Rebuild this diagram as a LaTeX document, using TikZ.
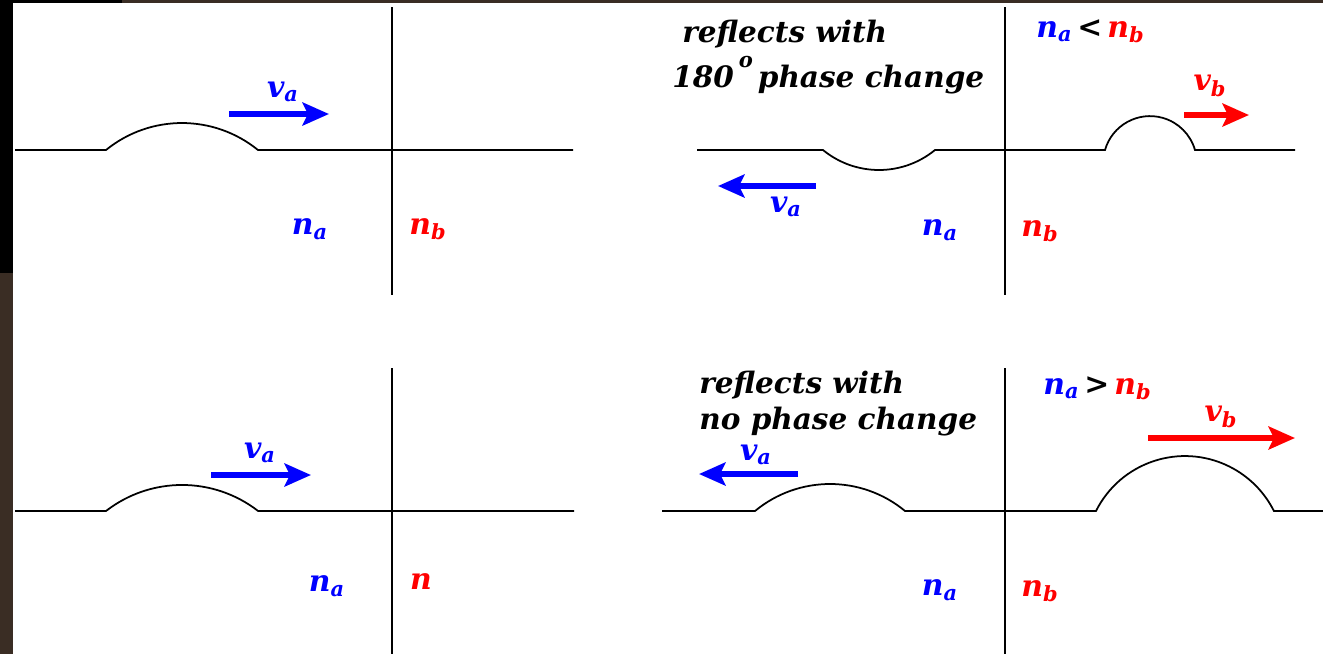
\documentclass[tikz,border=0pt]{standalone}
\usepackage{fontspec}
\setmainfont{DejaVu Serif}
\usetikzlibrary{arrows.meta}

\definecolor{waveblue}{RGB}{0,0,255}
\definecolor{wavered}{RGB}{255,0,0}
\definecolor{framebrown}{RGB}{58,45,36}
\newcommand{\idx}[2]{#1\textsubscript{#2}}

\begin{document}
\begin{tikzpicture}[
		x=0.02cm, y=-0.02cm,   % pixel grid, y runs down
		string/.style={line width=1pt, black},                      % the rope
		wall/.style={line width=1.1pt, black},                      % boundary between media
		vel/.style={line width=3.4pt, -{Stealth[length=15pt,width=13pt,inset=3pt]}},
		lbl/.style={font=\fontsize{17}{20}\selectfont\bfseries\itshape, inner sep=0pt},
		note/.style={font=\fontsize{16.8}{20}\selectfont\bfseries\itshape, inner sep=0pt, anchor=base west}
		]
		% frame round the slide
		\useasboundingbox (0,0) rectangle (1323,654);
		\fill[framebrown] (0,0) rectangle (1323,654);
		\fill[black] (0,0) rectangle (13,273);
		\fill[black] (0,0) rectangle (122,3);
		\fill[white] (13,3) rectangle (1323,654);

		% ---------- top left: incoming pulse ----------
		\draw[wall] (392,7) coordinate (w1t) -- (392,295) coordinate (w1b);
		\draw[string] (15,150) -- (106,150) arc[start angle=-129.1, end angle=-50.9, radius=120.5] -- (573,150);
		\coordinate (a1s) at (229,114);
		\coordinate (a1e) at (329,114);
		\draw[vel, waveblue] (a1s) -- (a1e);
		\node[lbl, waveblue] (va1) at (283,92) {\idx{v}{a}};
		\node[lbl, waveblue] (na1) at (310,229) {\idx{n}{a}};
		\node[lbl, wavered] (nb1) at (428,229) {\idx{n}{b}};

		% ---------- top right: n_a < n_b ----------
		\draw[wall] (1005,7) coordinate (w2t) -- (1005,295) coordinate (w2b);
		\draw[string] (697,150) -- (823,150) arc[start angle=129.3, end angle=50.7, radius=88.4]
			-- (1105,150) arc[start angle=-164, end angle=-16, radius=46.8] -- (1295,150);
		\node[note] (t1a) at (682,42) {reflects with};
		\node[note] (t1b) at (672,87) {180\,\raisebox{1.3ex}{\fontsize{12}{12}\selectfont o}\,phase change};
		\node[lbl, anchor=base west] (cmp1) at (1036,37) {\textcolor{waveblue}{\idx{n}{a}}\,<\,\textcolor{wavered}{\idx{n}{b}}};
		\coordinate (a2s) at (816,186);
		\coordinate (a2e) at (718,186);
		\draw[vel, waveblue] (a2s) -- (a2e);
		\node[lbl, waveblue] (va2) at (786,207) {\idx{v}{a}};
		\coordinate (b2s) at (1184,115);
		\coordinate (b2e) at (1249,115);
		\draw[vel, wavered] (b2s) -- (b2e);
		\node[lbl, wavered] (vb2) at (1210,86) {\idx{v}{b}};
		\node[lbl, waveblue] (na2) at (940,230) {\idx{n}{a}};
		\node[lbl, wavered] (nb2) at (1040,231) {\idx{n}{b}};

		% ---------- bottom left: incoming pulse ----------
		\draw[wall] (392,368) coordinate (w3t) -- (392,654) coordinate (w3b);
		\draw[string] (15,511) -- (106,511) arc[start angle=-127.8, end angle=-52.2, radius=124.1] -- (574,511);
		\coordinate (a3s) at (211,475);
		\coordinate (a3e) at (311,475);
		\draw[vel, waveblue] (a3s) -- (a3e);
		\node[lbl, waveblue] (va3) at (260,453) {\idx{v}{a}};
		\node[lbl, waveblue] (na3) at (327,586) {\idx{n}{a}};
		\node[lbl, wavered] (nb3) at (421,582) {n};

		% ---------- bottom right: n_a > n_b ----------
		\draw[wall] (1005,368) coordinate (w4t) -- (1005,654) coordinate (w4b);
		\draw[string] (662,511) -- (755,511) arc[start angle=-129.6, end angle=-50.4, radius=117.7]
			-- (1096,511) arc[start angle=-153.4, end angle=-26.6, radius=99.5] -- (1323,511);
		\node[note] (t4a) at (699,393) {reflects with};
		\node[note] (t4b) at (699,429) {no phase change};
		\node[lbl, anchor=base west] (cmp4) at (1043,394) {\textcolor{waveblue}{\idx{n}{a}}\,>\,\textcolor{wavered}{\idx{n}{b}}};
		\coordinate (a4s) at (798,474);
		\coordinate (a4e) at (699,474);
		\draw[vel, waveblue] (a4s) -- (a4e);
		\node[lbl, waveblue] (va4) at (756,455) {\idx{v}{a}};
		\coordinate (b4s) at (1148,438);
		\coordinate (b4e) at (1295,438);
		\draw[vel, wavered] (b4s) -- (b4e);
		\node[lbl, wavered] (vb4) at (1221,417) {\idx{v}{b}};
		\node[lbl, waveblue] (na4) at (940,590) {\idx{n}{a}};
		\node[lbl, wavered] (nb4) at (1040,591) {\idx{n}{b}};
	\end{tikzpicture}
\end{document}
